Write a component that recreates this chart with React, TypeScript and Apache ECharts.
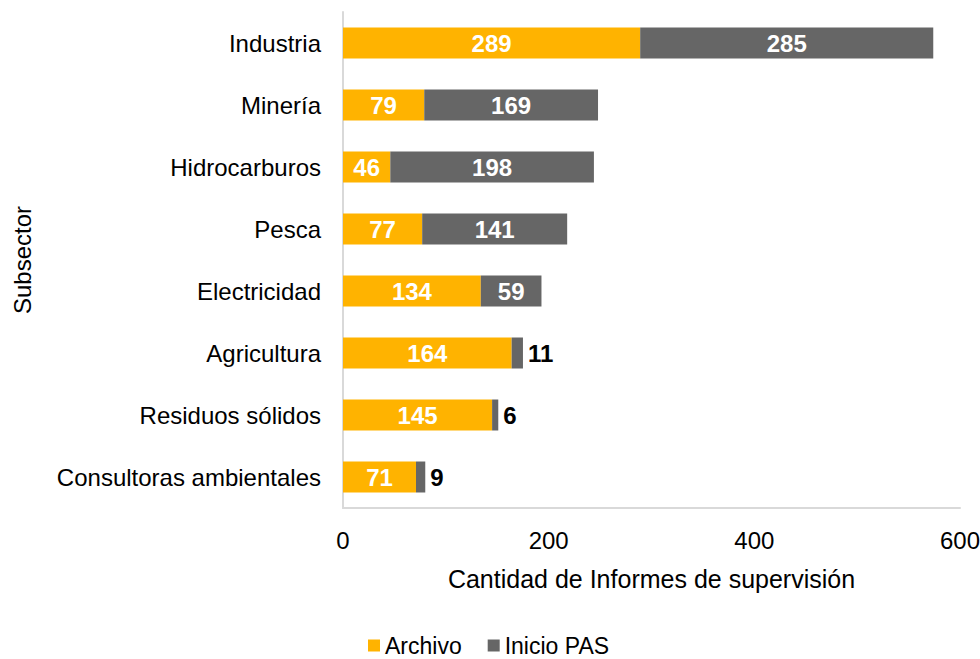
import React, { useEffect, useRef } from "react";
import * as echarts from "echarts";

const categories = [
  "Industria",
  "Minería",
  "Hidrocarburos",
  "Pesca",
  "Electricidad",
  "Agricultura",
  "Residuos sólidos",
  "Consultoras ambientales",
];
const archivo = [289, 79, 46, 77, 134, 164, 145, 71];
const inicioPAS = [285, 169, 198, 141, 59, 11, 6, 9];
const xTicks = { min: 0, max: 600, interval: 200 };

const FONT = "'Liberation Sans', Arial, sans-serif";
const ORANGE = "#FFB300";
const GREY = "#666666";

export default function App() {
  const ref = useRef<HTMLDivElement>(null);
  useEffect(() => {
    if (!ref.current) return;
    const chart = echarts.init(ref.current, null, { renderer: "svg" });
    const smallThreshold = 30;
    const lbl = (inside: boolean) => ({
      show: true,
      position: inside ? "inside" : "right",
      distance: 5,
      color: inside ? "#fff" : "#000",
      fontWeight: "bold",
      fontSize: 24,
      fontFamily: FONT,
    });
    chart.setOption({
      animation: false,
      textStyle: { fontFamily: FONT },
      grid: {
        left: 343,
        right: 20,
        top: 12,
        bottom: 151,
        containLabel: false,
        outerBoundsMode: "none",
      },
      legend: {
        data: ["Archivo", "Inicio PAS"],
        left: 368,
        top: 634,
        icon: "rect",
        itemWidth: 12,
        itemHeight: 12,
        itemGap: 26,
        padding: 0,
        textStyle: { fontFamily: FONT, fontSize: 23, color: "#000" },
      },
      xAxis: {
        type: "value",
        min: xTicks.min,
        max: xTicks.max,
        interval: xTicks.interval,
        name: "Cantidad de Informes de supervisión",
        nameLocation: "middle",
        nameGap: 58,
        nameTextStyle: { fontFamily: FONT, fontSize: 25, color: "#000" },
        axisLine: { show: true, lineStyle: { color: "#D9D9D9", width: 2 } },
        axisTick: { show: false },
        splitLine: { show: false },
        axisLabel: { fontFamily: FONT, fontSize: 24, color: "#000", margin: 20 },
      },
      yAxis: {
        type: "category",
        data: categories,
        inverse: true,
        name: "Subsector",
        nameLocation: "middle",
        nameGap: 309,
        nameRotate: 90,
        nameTextStyle: { fontFamily: FONT, fontSize: 24, color: "#000" },
        axisLine: { show: true, lineStyle: { color: "#D9D9D9", width: 2 } },
        axisTick: { show: false },
        axisLabel: { fontFamily: FONT, fontSize: 24, color: "#000", margin: 22 },
      },
      series: [
        {
          name: "Archivo",
          type: "bar",
          stack: "total",
          barWidth: "50%",
          itemStyle: { color: ORANGE },
          label: lbl(true),
          data: archivo,
        },
        {
          name: "Inicio PAS",
          type: "bar",
          stack: "total",
          barWidth: "50%",
          itemStyle: { color: GREY },
          data: inicioPAS.map((v) => ({ value: v, label: lbl(v >= smallThreshold) })),
        },
      ],
    });
    return () => chart.dispose();
  }, []);
  return (
    <div
      ref={ref}
      style={{ position: "absolute", left: 0, top: 0, width: 980, height: 659, background: "#fff" }}
    />
  );
}
